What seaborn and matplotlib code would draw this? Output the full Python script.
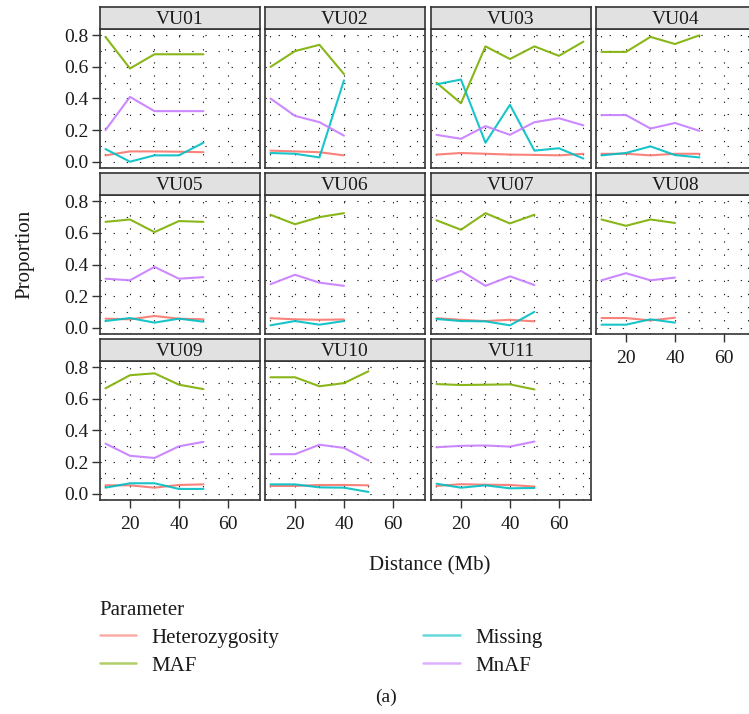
import matplotlib
matplotlib.use("Agg")
import matplotlib.pyplot as plt
from matplotlib.lines import Line2D
import seaborn as sns
import pandas as pd

# ---------------- data ----------------
parameters = ["Heterozygosity", "MAF", "Missing", "MnAF"]
colors = ["#F8766D", "#7CAE00", "#00BFC4", "#C77CFF"]

panels = ["VU01", "VU02", "VU03", "VU04", "VU05", "VU06",
          "VU07", "VU08", "VU09", "VU10", "VU11"]

dist_vu01 = [10, 20, 30, 40, 50]
het_vu01 = [0.04, 0.065, 0.065, 0.063, 0.06]
maf_vu01 = [0.79, 0.59, 0.68, 0.68, 0.68]
mis_vu01 = [0.08, 0.0, 0.04, 0.04, 0.12]
mnaf_vu01 = [0.20, 0.41, 0.32, 0.32, 0.32]

dist_vu02 = [10, 20, 30, 40]
het_vu02 = [0.07, 0.065, 0.06, 0.04]
maf_vu02 = [0.60, 0.70, 0.74, 0.555]
mis_vu02 = [0.055, 0.05, 0.027, 0.515]
mnaf_vu02 = [0.40, 0.29, 0.25, 0.165]

dist_vu03 = [10, 20, 30, 40, 50, 60, 70]
het_vu03 = [0.045, 0.055, 0.05, 0.045, 0.043, 0.04, 0.05]
maf_vu03 = [0.50, 0.37, 0.73, 0.65, 0.73, 0.67, 0.76]
mis_vu03 = [0.49, 0.52, 0.12, 0.36, 0.07, 0.085, 0.02]
mnaf_vu03 = [0.17, 0.145, 0.225, 0.17, 0.25, 0.275, 0.23]

dist_vu04 = [10, 20, 30, 40, 50]
het_vu04 = [0.05, 0.05, 0.04, 0.05, 0.05]
maf_vu04 = [0.695, 0.695, 0.79, 0.745, 0.80]
mis_vu04 = [0.04, 0.055, 0.097, 0.042, 0.027]
mnaf_vu04 = [0.295, 0.295, 0.21, 0.245, 0.195]

dist_vu05 = [10, 20, 30, 40, 50]
het_vu05 = [0.057, 0.053, 0.074, 0.057, 0.053]
maf_vu05 = [0.67, 0.685, 0.605, 0.675, 0.67]
mis_vu05 = [0.042, 0.061, 0.032, 0.057, 0.038]
mnaf_vu05 = [0.31, 0.30, 0.385, 0.31, 0.32]

dist_vu06 = [10, 20, 30, 40]
het_vu06 = [0.06, 0.053, 0.05, 0.052]
maf_vu06 = [0.715, 0.655, 0.70, 0.725]
mis_vu06 = [0.015, 0.042, 0.019, 0.042]
mnaf_vu06 = [0.275, 0.335, 0.285, 0.265]

dist_vu07 = [10, 20, 30, 40, 50]
het_vu07 = [0.06, 0.05, 0.042, 0.05, 0.04]
maf_vu07 = [0.68, 0.62, 0.725, 0.66, 0.715]
mis_vu07 = [0.055, 0.042, 0.04, 0.015, 0.10]
mnaf_vu07 = [0.30, 0.36, 0.265, 0.325, 0.27]

dist_vu08 = [10, 20, 30, 40]
het_vu08 = [0.061, 0.061, 0.046, 0.063]
maf_vu08 = [0.685, 0.645, 0.685, 0.663]
mis_vu08 = [0.019, 0.019, 0.053, 0.032]
mnaf_vu08 = [0.30, 0.345, 0.30, 0.317]

dist_vu09 = [10, 20, 30, 40, 50]
het_vu09 = [0.053, 0.053, 0.038, 0.055, 0.059]
maf_vu09 = [0.667, 0.75, 0.762, 0.69, 0.662]
mis_vu09 = [0.038, 0.066, 0.066, 0.03, 0.03]
mnaf_vu09 = [0.317, 0.24, 0.226, 0.30, 0.328]

dist_vu10 = [10, 20, 30, 40, 50]
het_vu10 = [0.049, 0.049, 0.055, 0.055, 0.053]
maf_vu10 = [0.737, 0.737, 0.68, 0.70, 0.775]
mis_vu10 = [0.059, 0.059, 0.04, 0.038, 0.011]
mnaf_vu10 = [0.25, 0.25, 0.31, 0.29, 0.21]

dist_vu11 = [10, 20, 30, 40, 50]
het_vu11 = [0.049, 0.06, 0.057, 0.055, 0.045]
maf_vu11 = [0.694, 0.688, 0.69, 0.692, 0.66]
mis_vu11 = [0.063, 0.038, 0.053, 0.034, 0.036]
mnaf_vu11 = [0.294, 0.303, 0.305, 0.298, 0.33]

x_ticks = [20, 40, 60]
y_ticks = [0.0, 0.2, 0.4, 0.6, 0.8]
y_ticklabels = ["0.0", "0.2", "0.4", "0.6", "0.8"]

# ---------------- build long table ----------------
g = globals()
rows = []
for p in panels:
    k = p.lower()
    d = g["dist_" + k]
    series = {"Heterozygosity": g["het_" + k], "MAF": g["maf_" + k],
              "Missing": g["mis_" + k], "MnAF": g["mnaf_" + k]}
    for par in parameters:
        for x, y in zip(d, series[par]):
            rows.append({"Panel": p, "Distance": x, "Parameter": par, "Proportion": y})
df = pd.DataFrame(rows)
palette = dict(zip(parameters, colors))

# ---------------- figure ----------------
sns.set_theme(style="white")
plt.rcParams["font.family"] = ["Liberation Serif", "DejaVu Serif"]
W, H = 749, 714
fig = plt.figure(figsize=(W / 100, H / 100), dpi=100)

col_left = [100, 265, 431, 596]
panel_w = 160
row_strip_top = [7, 173, 339]
strip_h = 22
panel_h = 139
edge = "#333333"
txt = "#1a1a1a"

def fx(x):
    return x / W

def fy(y):
    return 1 - y / H

for i, p in enumerate(panels):
    r, c = divmod(i, 4)
    left = col_left[c]
    stop = row_strip_top[r]
    ptop = stop + strip_h
    ax = fig.add_axes([fx(left), fy(ptop + panel_h), panel_w / W, panel_h / H])
    sub = df[df["Panel"] == p]
    sns.lineplot(data=sub, x="Distance", y="Proportion", hue="Parameter",
                 hue_order=parameters, palette=palette, linewidth=1.5,
                 alpha=0.9, legend=False, ax=ax, zorder=3)
    ax.set_xlim(7.76, 73.1)
    ax.set_ylim(-0.04, 0.84)
    ax.set_xticks([10, 30, 50, 70], minor=True)
    ax.set_xticks(x_ticks)
    ax.set_yticks([0.1, 0.3, 0.5, 0.7], minor=True)
    ax.set_yticks(y_ticks)
    ax.grid(True, which="both", color="#222222", linewidth=0.8,
            linestyle=(0, (1.2, 10.6)))
    ax.set_axisbelow(True)
    ax.set_facecolor("white")
    for s in ax.spines.values():
        s.set_color(edge)
        s.set_linewidth(1.2)
    ax.set_xlabel("")
    ax.set_ylabel("")
    show_x = (r == 2) or (p == "VU08")
    show_y = (c == 0)
    ax.tick_params(axis="both", which="minor", length=0)
    ax.tick_params(axis="x", which="major", bottom=show_x, labelbottom=show_x,
                   length=5.5, width=1.0, color=edge, labelsize=14, pad=6,
                   direction="out", labelcolor=txt)
    ax.tick_params(axis="y", which="major", left=show_y, labelleft=show_y,
                   length=5.5, width=1.0, color=edge, labelsize=14, pad=3,
                   direction="out", labelcolor=txt)
    if show_x:
        ax.set_xticklabels([str(t) for t in x_ticks])
    if show_y:
        ax.set_yticklabels(y_ticklabels)
    # strip
    sax = fig.add_axes([fx(left), fy(stop + strip_h), panel_w / W, strip_h / H])
    sax.set_facecolor("#E2E1E2")
    sax.set_xticks([])
    sax.set_yticks([])
    for s in sax.spines.values():
        s.set_color(edge)
        s.set_linewidth(1.2)
    sax.text(0.5, 0.45, p, ha="center", va="center", fontsize=14,
             color=txt, transform=sax.transAxes)

fig.text(fx(430), fy(566), "Distance (Mb)", ha="center", va="center",
         fontsize=15, color=txt)
fig.text(fx(25), fy(254), "Proportion", ha="center", va="center",
         rotation=90, fontsize=15, color=txt)

handles = [Line2D([0], [0], color=palette[p], lw=1.8, alpha=0.6) for p in parameters]
leg = fig.legend(handles, parameters, ncol=2, frameon=False,
                 loc="upper left", bbox_to_anchor=(fx(81), fy(582)),
                 title="Parameter", alignment="left", fontsize=15,
                 title_fontsize=15, handlelength=1.75, handletextpad=0.75,
                 columnspacing=6.9, labelspacing=0.4)
for t in leg.get_texts():
    t.set_color(txt)
leg.get_title().set_color(txt)
fig.text(fx(386), fy(697), "(a)", ha="center", va="center", fontsize=14,
         color=txt)

fig.savefig("out.png", dpi=100)
